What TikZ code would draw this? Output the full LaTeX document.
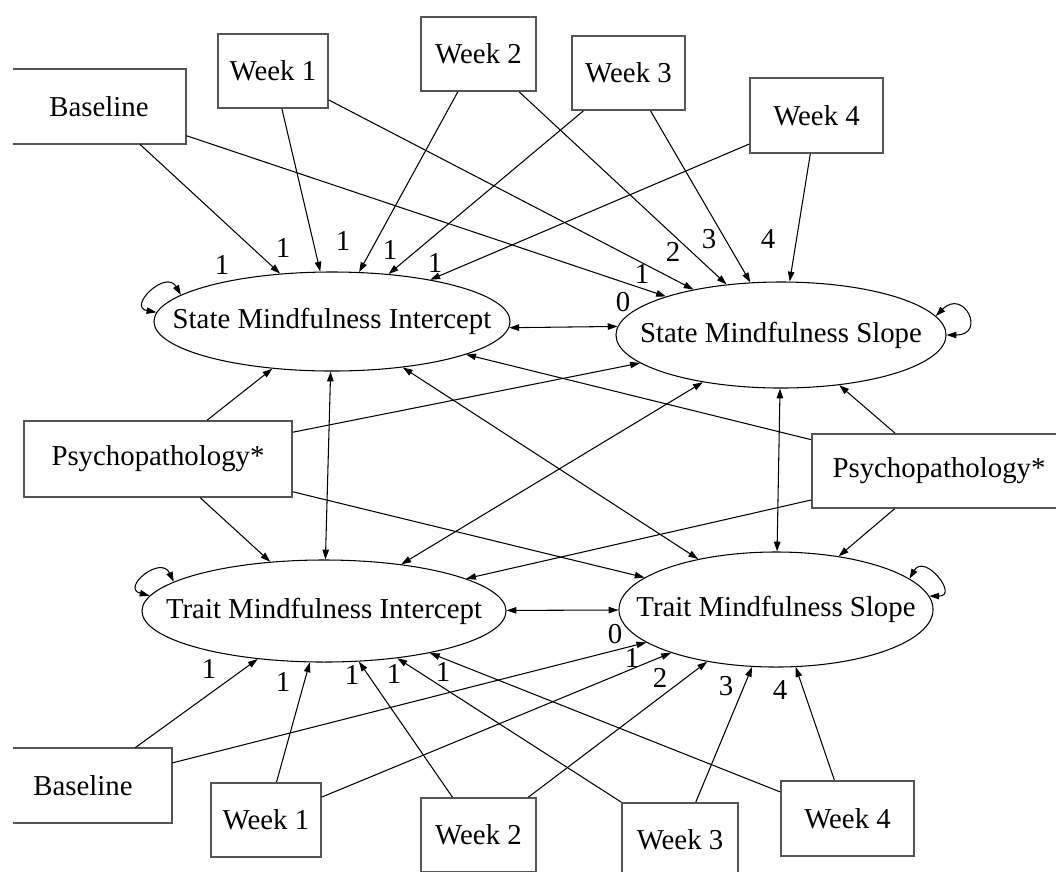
\documentclass[tikz,border=0pt]{standalone}
\usepackage{fontspec}
\setmainfont{Liberation Serif}
\usetikzlibrary{arrows.meta,shapes.geometric,calc}
\definecolor{boxgray}{RGB}{85,85,85}
\begin{document}
\begin{tikzpicture}[x=0.025cm,y=0.025cm,
  font=\fontsize{20.5}{24}\selectfont,
  obs/.style={draw=boxgray,line width=1.2pt,rectangle,inner sep=0pt},
  obsopen/.style={rectangle,inner sep=0pt},
  boxline/.style={draw=boxgray,line width=1.2pt},
  lat/.style={draw,ellipse,inner sep=0pt,line width=0.75pt},
  arr/.style={-{Triangle[length=7pt,width=4.6pt]},line width=0.75pt},
  dbl/.style={{Triangle[length=7pt,width=4.6pt]}-{Triangle[length=7pt,width=4.6pt]},line width=0.75pt},
  lab/.style={inner sep=0pt}]
\useasboundingbox (0,0) rectangle (1056,-871);
\clip (0,0) rectangle (1056,-871);
\coordinate (lx) at (13,0);

% observed (top)
\node[obsopen,minimum width=4.35cm,minimum height=1.875cm] (bt) at (99,-106.5) {Baseline};
\node[obs,minimum width=2.75cm,minimum height=1.85cm] (w1t) at (273,-71) {Week 1};
\node[obs,minimum width=2.875cm,minimum height=1.85cm] (w2t) at (478.5,-54) {Week 2};
\node[obs,minimum width=2.825cm,minimum height=1.85cm] (w3t) at (628.5,-73) {Week 3};
\node[obs,minimum width=3.325cm,minimum height=1.875cm] (w4t) at (816.5,-115.5) {Week 4};
\draw[boxline] (bt.north west -| lx) -- (bt.north east) -- (bt.south east) -- (bt.south west -| lx);

% latent
\node[lat,minimum width=8.9cm,minimum height=2.475cm] (si) at (332,-321.5) {\makebox[0pt]{State Mindfulness Intercept}};
\node[lat,minimum width=8.25cm,minimum height=2.65cm] (ss) at (781,-335) {\makebox[0pt]{State Mindfulness Slope}};
\node[lat,minimum width=9.1cm,minimum height=2.55cm] (ti) at (324,-611) {\makebox[0pt]{Trait Mindfulness Intercept}};
\node[lat,minimum width=7.85cm,minimum height=2.875cm] (ts) at (776,-609.5) {\makebox[0pt]{Trait Mindfulness Slope}};

% covariates
\node[obs,minimum width=6.7cm,minimum height=1.9cm] (pl) at (158,-459) {Psychopathology*};
\node[obs,minimum width=6.35cm,minimum height=1.85cm] (pr) at (939,-471) {Psychopathology*};

% observed (bottom)
\node[obsopen,minimum width=4.45cm,minimum height=1.875cm] (bb) at (83,-785.5) {Baseline};
\node[obs,minimum width=2.75cm,minimum height=1.85cm] (w1b) at (266,-820) {Week 1};
\node[obs,minimum width=2.875cm,minimum height=1.85cm] (w2b) at (478.5,-835) {Week 2};
\node[obs,minimum width=2.9cm,minimum height=1.85cm] (w3b) at (680,-840) {Week 3};
\node[obs,minimum width=3.325cm,minimum height=1.875cm] (w4b) at (847.5,-818.5) {Week 4};
\draw[boxline] (bb.north west -| lx) -- (bb.north east) -- (bb.south east) -- (bb.south west -| lx);

% top loadings
\foreach \s in {bt,w1t,w2t,w3t,w4t}{
  \draw[arr] (\s) -- (si);
  \draw[arr] (\s) -- (ss);
}
% bottom loadings
\foreach \s in {bb,w1b,w2b,w3b,w4b}{
  \draw[arr] (\s) -- (ti);
  \draw[arr] (\s) -- (ts);
}
% covariate regressions
\foreach \p in {pl,pr}{
  \foreach \t in {si,ss,ti,ts}{
    \draw[arr] (\p) -- (\t);
  }
}
% covariances
\draw[dbl] (si.-2) -- (ss.177.5);
\draw[dbl] (ti) -- (ts);
\draw[dbl] (si) -- (ti);
\draw[dbl] (ss) -- (ts);
\draw[dbl] (si) -- (ts);
\draw[dbl] (ss) -- (ti);

% variances (self loops)
\draw[dbl] (si.170) .. controls +(120:30) and +(170:30) .. (si.177);
\draw[dbl] (ti.169) .. controls +(115:30) and +(165:30) .. (ti.175);
\draw[dbl] (ss.7) .. controls +(45:40) and +(0:40) .. (ss.0);
\draw[dbl] (ts.13) .. controls +(60:30) and +(0:30) .. (ts.5);

% loading labels (top)
\node[lab] (l1) at (222,-265) {1};
\node[lab] (l2) at (283,-248) {1};
\node[lab] (l3) at (343,-241) {1};
\node[lab] (l4) at (390,-250) {1};
\node[lab] (l5) at (435,-263) {1};
\node[lab] (l6) at (623,-302) {0};
\node[lab] (l7) at (642,-274) {1};
\node[lab] (l8) at (673,-252) {2};
\node[lab] (l9) at (709,-239) {3};
\node[lab] (l10) at (768,-239) {4};
% loading labels (bottom)
\node[lab] (l11) at (209,-669) {1};
\node[lab] (l12) at (283,-682) {1};
\node[lab] (l13) at (352,-675) {1};
\node[lab] (l14) at (394,-674) {1};
\node[lab] (l15) at (443,-672) {1};
\node[lab] (l16) at (615,-634) {0};
\node[lab] (l17) at (632,-658) {1};
\node[lab] (l18) at (660,-678) {2};
\node[lab] (l19) at (726,-686) {3};
\node[lab] (l20) at (780,-690) {4};
\end{tikzpicture}
\end{document}
